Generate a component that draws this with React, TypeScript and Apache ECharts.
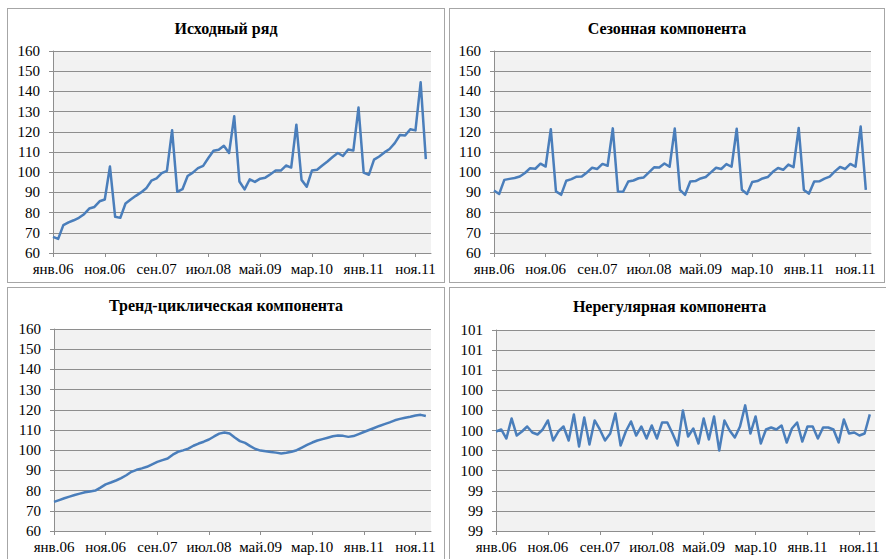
import React, { useEffect, useRef } from "react";
import * as echarts from "echarts";

// Month abbreviations and years used to build the category axis (янв.06 … фев.12)
const MONTHS = ["янв", "фев", "мар", "апр", "май", "июн", "июл", "авг", "сен", "окт", "ноя", "дек"];
const YEARS = ["06", "07", "08", "09", "10", "11", "12"];
const CATEGORY_COUNT = 74;

const categories: string[] = [];
for (const y of YEARS) {
  for (const m of MONTHS) {
    if (categories.length < CATEGORY_COUNT) categories.push(`${m}.${y}`);
  }
}

// Исходный ряд (Jan 2006 – Jan 2012)
const original = [
  68.0, 67.0, 73.8, 75.2, 76.2, 77.4, 79.2, 82.0, 82.8, 85.6, 86.5, 102.8,
  77.9, 77.4, 84.5, 86.5, 88.3, 90.0, 92.0, 95.8, 96.9, 99.5, 100.7, 120.8,
  90.3, 91.6, 98.1, 99.8, 102.0, 103.1, 107.0, 110.6, 111.1, 113.1, 109.5, 127.7,
  95.4, 91.5, 96.5, 95.2, 96.8, 97.3, 99.0, 100.8, 100.8, 103.3, 102.3, 123.5,
  96.2, 92.8, 100.8, 101.2, 103.3, 105.3, 107.5, 109.5, 108.0, 111.2, 110.7, 132.0,
  99.8, 98.7, 106.2, 107.8, 109.8, 111.5, 114.4, 118.4, 118.2, 121.3, 120.7, 144.5,
  106.5,
];

// Сезонная компонента
const seasonal = [
  90.9, 89.2, 96.2, 96.7, 97.1, 97.9, 99.6, 102.0, 101.7, 104.2, 102.8, 121.3,
  90.5, 88.8, 95.8, 96.6, 97.8, 97.9, 99.9, 102.2, 101.6, 104.1, 103.2, 121.7,
  90.4, 90.3, 95.4, 95.9, 97.0, 97.4, 99.9, 102.4, 102.3, 104.3, 102.7, 121.6,
  91.3, 88.8, 95.4, 95.6, 96.9, 97.6, 99.9, 102.2, 101.6, 104.0, 102.7, 121.5,
  91.3, 89.2, 95.2, 95.6, 96.9, 97.6, 100.2, 102.1, 101.2, 103.8, 102.5, 121.9,
  91.2, 89.4, 95.4, 95.5, 96.8, 97.8, 100.4, 102.6, 101.6, 104.1, 102.7, 122.6,
  91.3,
];

// Тренд-циклическая компонента
const trend = [
  74.4, 75.3, 76.2, 77.0, 77.8, 78.5, 79.2, 79.6, 80.0, 81.5, 83.1, 84.0,
  85.0, 86.2, 87.6, 89.3, 90.3, 91.0, 91.8, 93.0, 94.2, 95.1, 95.9, 97.8,
  99.2, 99.9, 100.8, 102.2, 103.3, 104.2, 105.3, 106.8, 108.2, 108.8, 108.3, 106.3,
  104.5, 103.6, 102.0, 100.6, 99.8, 99.5, 99.1, 98.8, 98.4, 98.7, 99.2, 100.0,
  101.3, 102.6, 103.8, 104.8, 105.5, 106.2, 106.9, 107.3, 107.1, 106.6, 107.0, 108.0,
  109.0, 110.0, 111.0, 112.0, 112.9, 113.8, 114.8, 115.5, 116.1, 116.6, 117.2, 117.5,
  116.9,
];

// Нерегулярная компонента
const irregular = [
  99.99, 100.01, 99.92, 100.12, 99.95, 99.99, 100.04, 99.98, 99.96, 100.01, 100.10, 99.90,
  99.99, 100.04, 99.90, 100.16, 99.84, 100.13, 99.86, 100.10, 100.01, 99.90, 99.97, 100.17,
  99.85, 99.99, 100.09, 99.95, 100.04, 99.92, 100.05, 99.92, 100.08, 100.08, 99.97, 99.85,
  100.20, 99.94, 100.02, 99.87, 100.12, 99.91, 100.14, 99.80, 100.10, 100.00, 99.93, 100.04,
  100.25, 99.97, 100.14, 99.87, 100.01, 100.03, 100.01, 100.05, 99.88, 100.02, 100.08, 99.89,
  100.04, 100.04, 99.92, 100.03, 100.03, 100.01, 99.88, 100.11, 99.97, 99.98, 99.95, 99.97,
  100.16,
];

const FONT = "Liberation Serif";
const LINE_COLOR = "#4a7ebb";
const GRID_COLOR = "#8e8e8e";

type PanelProps = {
  title: string;
  data: number[];
  yMin: number;
  yMax: number;
  yInterval: number;
  yDecimals: number;
  box: { left: number; top: number; width: number; height: number };
  grid: { left: number; top: number; right: number; bottom: number };
  titleTop: number;
};

function ChartPanel(props: PanelProps) {
  const ref = useRef<HTMLDivElement>(null);

  useEffect(() => {
    if (!ref.current) return;
    const chart = echarts.init(ref.current, undefined, { renderer: "svg" });
    chart.setOption({
      animation: false,
      backgroundColor: "#ffffff",
      textStyle: { fontFamily: FONT },
      title: {
        text: props.title,
        left: "center",
        top: props.titleTop,
        padding: 0,
        textStyle: {
          fontFamily: FONT,
          fontSize: 16,
          fontWeight: "bold",
          color: "#000000",
        },
      },
      grid: {
        ...props.grid,
        show: true,
        backgroundColor: "#f2f2f2",
        borderWidth: 0,
      },
      xAxis: {
        type: "category",
        data: categories,
        boundaryGap: false,
        axisLine: { show: true, lineStyle: { color: GRID_COLOR, width: 1 } },
        axisTick: { show: true, interval: 9, length: 4, lineStyle: { color: GRID_COLOR } },
        axisLabel: {
          interval: 9,
          margin: 8,
          fontFamily: FONT,
          fontSize: 15,
          color: "#000000",
        },
        splitLine: { show: false },
      },
      yAxis: {
        type: "value",
        min: props.yMin,
        max: props.yMax,
        interval: props.yInterval,
        axisLine: { show: true, lineStyle: { color: GRID_COLOR, width: 1 } },
        axisTick: { show: true, length: 4, lineStyle: { color: GRID_COLOR } },
        axisLabel: {
          margin: 13,
          fontFamily: FONT,
          fontSize: 15,
          color: "#000000",
          formatter: (v: number) => v.toFixed(props.yDecimals),
        },
        splitLine: { show: true, lineStyle: { color: GRID_COLOR, width: 1 } },
      },
      series: [
        {
          type: "line",
          data: props.data,
          showSymbol: false,
          symbol: "none",
          lineStyle: { color: LINE_COLOR, width: 2.5, join: "round" },
        },
      ],
    });
    return () => chart.dispose();
  }, []);

  const { box } = props;
  return (
    <div
      style={{
        position: "absolute",
        left: box.left,
        top: box.top,
        width: box.width,
        height: box.height,
        boxSizing: "border-box",
        border: "1px solid #a6a6a6",
        background: "#ffffff",
      }}
    >
      <div ref={ref} style={{ width: box.width - 2, height: box.height - 2 }} />
    </div>
  );
}

export default function App() {
  return (
    <div
      style={{
        position: "absolute",
        left: 0,
        top: 0,
        width: 886,
        height: 559,
        overflow: "hidden",
        background: "#ffffff",
      }}
    >
      <ChartPanel
        title="Исходный ряд"
        data={original}
        yMin={60}
        yMax={160}
        yInterval={10}
        yDecimals={0}
        box={{ left: 7, top: 8, width: 438, height: 275 }}
        grid={{ left: 45, top: 42, right: 13, bottom: 29 }}
        titleTop={11}
      />
      <ChartPanel
        title="Сезонная компонента"
        data={seasonal}
        yMin={60}
        yMax={160}
        yInterval={10}
        yDecimals={0}
        box={{ left: 449, top: 8, width: 436, height: 275 }}
        grid={{ left: 44, top: 42, right: 13, bottom: 29 }}
        titleTop={11}
      />
      <ChartPanel
        title="Тренд-циклическая компонента"
        data={trend}
        yMin={60}
        yMax={160}
        yInterval={10}
        yDecimals={0}
        box={{ left: 7, top: 287, width: 438, height: 275 }}
        grid={{ left: 46, top: 41, right: 13, bottom: 30 }}
        titleTop={9}
      />
      <ChartPanel
        title="Нерегулярная компонента"
        data={irregular}
        yMin={99}
        yMax={101}
        yInterval={0.2}
        yDecimals={0}
        box={{ left: 449, top: 287, width: 441, height: 275 }}
        grid={{ left: 46, top: 42, right: 14, bottom: 30 }}
        titleTop={10}
      />
    </div>
  );
}
